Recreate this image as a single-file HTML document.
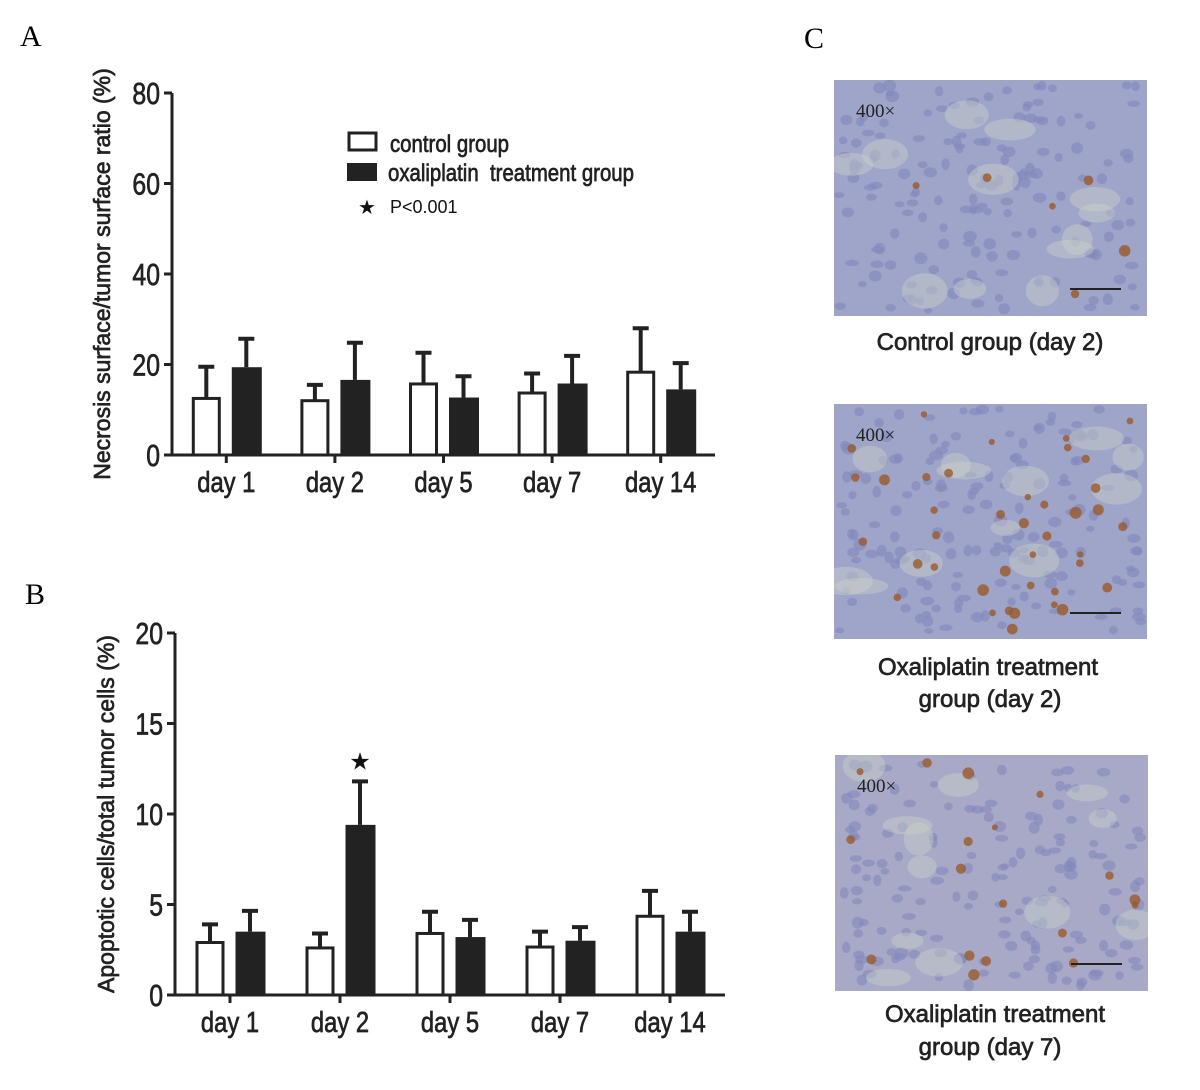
<!DOCTYPE html>
<html><head><meta charset="utf-8"><style>
html,body{margin:0;padding:0;background:#fff;}
svg{display:block;font-family:"Liberation Sans",sans-serif;}
.hv{stroke:#222;stroke-width:0.7px;}
</style></head><body>
<svg id="fig" width="1200" height="1090" viewBox="0 0 1200 1090">
<defs id="defs"></defs>
<text x="20" y="46" font-family="Liberation Serif" font-size="30">A</text>
<text x="25" y="604" font-family="Liberation Serif" font-size="30">B</text>
<text x="804" y="48" font-family="Liberation Serif" font-size="30">C</text>
<g id="chartA"></g>
<g id="chartB"></g>
<g>
 <rect x="349" y="133" width="27" height="17" fill="#fff" stroke="#222" stroke-width="3"/>
 <text class="hv" x="390" y="152" font-size="24" transform="translate(390,0) scale(0.85,1) translate(-390,0)" fill="#222">control group</text>
 <rect x="347" y="163" width="30" height="18" fill="#222"/>
 <text class="hv" x="388" y="181" font-size="24" transform="translate(388,0) scale(0.85,1) translate(-388,0)" fill="#222" xml:space="preserve">oxaliplatin  treatment group</text>
 <text x="358" y="214" font-size="20" fill="#111">★</text>
 <text x="390" y="213" font-size="18" fill="#111">P&lt;0.001</text>
</g>
<g id="photos"></g>
<g font-size="24" text-anchor="middle" fill="#222" class="hv">
<text x="990" y="350">Control group (day 2)</text>
<text x="988" y="675">Oxaliplatin treatment</text>
<text x="990" y="707">group (day 2)</text>
<text x="995" y="1022">Oxaliplatin treatment</text>
<text x="990" y="1055">group (day 7)</text>
</g>
</svg>
<script>
const categories = ["day 1","day 2","day 5","day 7","day 14"];
const aControl = [12.5, 12, 15.7, 13.7, 18.3];
const aControlErr = [19.5, 15.5, 22.6, 18, 28];
const aTreat = [19.4, 16.6, 12.7, 15.8, 14.5];
const aTreatErr = [25.7, 24.8, 17.4, 21.9, 20.3];
const aTicks = [0,20,40,60,80];
const bControl = [2.9, 2.6, 3.4, 2.65, 4.35];
const bControlErr = [3.9, 3.4, 4.6, 3.5, 5.75];
const bTreat = [3.5, 9.4, 3.2, 3.0, 3.5];
const bTreatErr = [4.65, 11.8, 4.15, 3.75, 4.6];
const bTicks = [0,5,10,15,20];
const bStars = [false, true, false, false, false];

const NS = "http://www.w3.org/2000/svg";
function mk(parent, tag, attrs){const e=document.createElementNS(NS,tag);for(const k in attrs)e.setAttribute(k,attrs[k]);parent.appendChild(e);return e;}

function drawChart(g, cfg){
  const y = v => cfg.y0 - v / cfg.max * (cfg.y0 - cfg.yTop);
  const n = categories.length;
  const gw = (cfg.x1 - cfg.x0) / n;
  const cx = i => cfg.x0 + gw*(i+0.5);
  let ax = mk(g,'line',{x1:cfg.x0,y1:cfg.yTop,x2:cfg.x0,y2:cfg.y0,stroke:'#222','stroke-width':3});
  
  
  let bx = mk(g,'line',{x1:cfg.x0,y1:cfg.y0,x2:cfg.x1,y2:cfg.y0,stroke:'#222','stroke-width':3});
  
  
  cfg.ticks.forEach(t=>{
    const l = mk(g,'line',{x1:cfg.x0-8,y1:y(t),x2:cfg.x0,y2:y(t),stroke:'#222','stroke-width':3});
    
    
    const tx = mk(g,'text',{x:cfg.x0-12,y:y(t)+11,'text-anchor':'end','font-size':31,fill:'#222',class:'hv',transform:`translate(${cfg.x0-12},0) scale(0.8,1) translate(${-(cfg.x0-12)},0)`});
    tx.textContent = t;
    
    
  });
  const yt = mk(g,'text',{x:0,y:0,'text-anchor':'middle','font-size':cfg.tfs,fill:'#222',class:'hv',transform:`translate(${cfg.titleX},${(cfg.y0+cfg.yTop)/2}) rotate(-90)`});
  yt.textContent = cfg.title;
  
  
  const bw = 29, gap = 11;
  for(let i=0;i<n;i++){
    const c = cx(i);
    const tk = mk(g,'line',{x1:c,y1:cfg.y0,x2:c,y2:cfg.y0+8,stroke:'#222','stroke-width':3});
    
    
    const lb = mk(g,'text',{x:c,y:cfg.y0+37,'text-anchor':'middle','font-size':29,fill:'#222',class:'hv',transform:`translate(${c},0) scale(0.82,1) translate(${-c},0)`});
    lb.textContent = categories[i];
    
    
    const xc = c - gap/2 - bw, xt = c + gap/2;
    const e1 = mk(g,'path',{d:`M${xc+bw/2} ${y(cfg.ctl[i])} V${y(cfg.ctlE[i])} M${xc+bw/2-8} ${y(cfg.ctlE[i])} H${xc+bw/2+8}`,stroke:'#222','stroke-width':4,fill:'none'});
    
    
    const r1 = mk(g,'rect',{x:xc+1.5,y:y(cfg.ctl[i]),width:bw-3,height:cfg.y0-y(cfg.ctl[i]),fill:'#fff',stroke:'#222','stroke-width':3});
    
    
    const e2 = mk(g,'path',{d:`M${xt+bw/2} ${y(cfg.trt[i])} V${y(cfg.trtE[i])} M${xt+bw/2-8} ${y(cfg.trtE[i])} H${xt+bw/2+8}`,stroke:'#222','stroke-width':4,fill:'none'});
    
    
    const r2 = mk(g,'rect',{x:xt,y:y(cfg.trt[i]),width:bw+1,height:cfg.y0-y(cfg.trt[i]),fill:'#222'});
    
    
    if(cfg.stars && cfg.stars[i]){
      const s = mk(g,'text',{x:xt+bw/2,y:y(cfg.trtE[i])-12,'text-anchor':'middle','font-size':24,fill:'#111'});
      s.textContent='★';
      
      
    }
  }
}
drawChart(document.getElementById('chartA'),{x0:172,x1:715,y0:455,yTop:93,max:80,ticks:aTicks,ctl:aControl,ctlE:aControlErr,trt:aTreat,trtE:aTreatErr,title:'Necrosis surface/tumor surface ratio (%)',titleX:110,tfs:23});
drawChart(document.getElementById('chartB'),{x0:175,x1:725,y0:995,yTop:633,max:20,ticks:bTicks,ctl:bControl,ctlE:bControlErr,trt:bTreat,trtE:bTreatErr,stars:bStars,title:'Apoptotic cells/total tumor cells (%)',titleX:114,tfs:23});

const photos = document.getElementById('photos');
const defs = document.getElementById('defs');
const boxes = [[834,80,313,236],[834,404,313,235],[835,755,313,236]];
const browns = [6, 40, 18];
boxes.forEach((b,k)=>{
  const cp = mk(defs,'clipPath',{id:'cp'+k});
  mk(cp,'rect',{x:b[0],y:b[1],width:b[2],height:b[3]});
  const g = mk(photos,'g',{'clip-path':`url(#cp${k})`});
  
  
  mk(g,'rect',{x:b[0],y:b[1],width:b[2],height:b[3],fill:k==2?'#a8a9c6':'#9fa4c9'});
  let s = 7+k*13;
  const rnd=()=>{s=(s*9301+49297)%233280;return s/233280;};
  for(let j=0;j<160;j++){
    mk(g,'ellipse',{cx:b[0]+5+rnd()*(b[2]-10),cy:b[1]+5+rnd()*(b[3]-10),rx:4+rnd()*3,ry:3+rnd()*3,fill:'#8288bd',opacity:0.6});
  }
  for(let j=0;j<12;j++){
    mk(g,'ellipse',{cx:b[0]+10+rnd()*(b[2]-20),cy:b[1]+10+rnd()*(b[3]-20),rx:14+rnd()*14,ry:8+rnd()*10,fill:'#c9d0c8',opacity:0.45});
  }
  for(let j=0;j<browns[k];j++){
    mk(g,'circle',{cx:b[0]+5+rnd()*(b[2]-10),cy:b[1]+5+rnd()*(b[3]-10),r:3+rnd()*3,fill:'#9a5a2a',opacity:0.8});
  }
  const t = mk(g,'text',{x:b[0]+22,y:b[1]+37,'font-family':'Liberation Serif','font-size':19,fill:'#222'});
  t.textContent='400×';
  
  
  const sb = mk(g,'line',{x1:b[0]+236,y1:b[1]+209,x2:b[0]+287,y2:b[1]+209,stroke:'#222','stroke-width':2});
  
  
});
</script>
</body></html>
